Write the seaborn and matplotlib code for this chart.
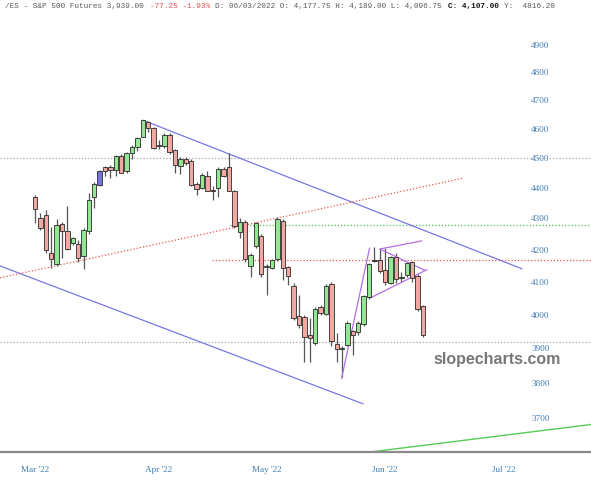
import numpy as np
import pandas as pd
import matplotlib
matplotlib.use("Agg")
import matplotlib.pyplot as plt
from matplotlib.ticker import FixedLocator, NullLocator, FixedFormatter
import seaborn as sns

# ---------------- data ----------------
dates = [d for d in pd.bdate_range("2022-03-01", "2022-06-10") if d != pd.Timestamp("2022-04-15")]

opens = [4370, 4301, 4311, 4190, 4155, 4283, 4261, 4222, 4218, 4180,
         4258, 4370, 4409, 4468, 4470, 4459, 4507, 4455, 4518, 4538,
         4573, 4623, 4602, 4540, 4540, 4578, 4527, 4473, 4497, 4491,
         4413, 4399, 4440, 4392, 4399, 4464, 4471, 4388, 4257, 4290,
         4150, 4213, 4245, 4146, 4144, 4170, 4293, 4147, 4086, 3995,
         3992, 3940, 3916, 4024, 4003, 4093, 3913, 3899, 3910, 3950,
         3947, 3972, 4052, 4166, 4166, 4137, 4097, 4177.75, 4111, 4121,
         4160, 4118, 4025]
highs = [4376, 4318, 4327, 4273, 4298, 4290, 4340, 4240, 4232, 4270,
         4382, 4418, 4460, 4472, 4475, 4510, 4512, 4520, 4545, 4572,
         4632, 4627, 4607, 4560, 4585, 4585, 4530, 4505, 4502, 4495,
         4418, 4450, 4455, 4405, 4470, 4468, 4516, 4392, 4300, 4295,
         4190, 4290, 4250, 4155, 4172, 4305, 4298, 4150, 4095, 4060,
         3998, 3990, 4022, 4030, 4092, 4098, 3945, 3905, 3980, 3955,
         3980, 4060, 4158, 4210, 4202, 4205, 4180, 4189, 4130, 4162,
         4165, 4125, 4030]
lows = [4285, 4262, 4190, 4143, 4149, 4174, 4198, 4215, 4160, 4140,
        4250, 4334, 4405, 4440, 4432, 4440, 4448, 4450, 4497, 4525,
        4570, 4590, 4530, 4530, 4535, 4515, 4450, 4446, 4478, 4405,
        4375, 4395, 4388, 4360, 4370, 4435, 4388, 4270, 4236, 4160,
        4115, 4205, 4115, 4060, 4138, 4165, 4105, 4090, 3985, 3960,
        3860, 3860, 3910, 4000, 3998, 3905, 3860, 3815, 3905, 3880,
        3940, 3965, 4048, 4160, 4128, 4090, 4094, 4096.75, 4100, 4115,
        4100, 4012, 3932]
closes = [4331, 4268, 4199, 4171, 4280, 4261, 4202, 4236, 4174, 4264,
          4359, 4413, 4455, 4455, 4460, 4507, 4451, 4517, 4538, 4568,
          4630, 4602, 4534, 4545, 4578, 4522, 4477, 4497, 4484, 4410,
          4396, 4444, 4391, 4391, 4464, 4440, 4391, 4277, 4290, 4170,
          4183, 4285, 4125, 4149, 4167, 4298, 4144, 4118, 3990, 3968,
          3932, 3930, 4018, 4006, 4087, 3922, 3898, 3900, 3975, 3940,
          3975, 4055, 4155, 4164, 4132, 4100, 4176, 4107, 4116, 4157,
          4112, 4016.25, 3939]
highlight_day = "2022-03-17"

# trend lines: (index start, price start, index end, price end)
channel_upper = (20.0, 4630, 90.4, 4140)
channel_lower = (-6.5, 4149, 60.9, 3740)
red_rising = (-6.5, 4112, 79.4, 4432)
green_rising = (62.2, 3607, 103.5, 3683)
flag_lines = [(56.9, 3812, 62.1, 4205),
              (64.0, 4202, 71.8, 4228),
              (64.0, 4202, 72.4, 4135),
              (62.2, 4050, 72.7, 4137)]
level_red = 4168
level_green = 4278
level_gray = [4500, 3919]
level_red_start = 32.8
level_green_start = 36.2

y_ticks = [3700, 3800, 3900, 4000, 4100, 4200, 4300, 4400, 4500, 4600, 4700, 4800, 4900]

# ---------------- style ----------------
sns.set_theme(style="white")
plt.rcParams["font.family"] = ["DejaVu Sans"]

fig = plt.figure(figsize=(5.91, 4.80), dpi=100)
ax = fig.add_axes([0, 28 / 480, 1, 452 / 480])

n = len(dates)
idx = np.arange(n)
df = pd.DataFrame({"date": dates, "i": idx, "open": opens, "high": highs,
                   "low": lows, "close": closes})
df["up"] = df["close"] >= df["open"]
df["bottom"] = df[["open", "close"]].min(axis=1)
df["height"] = (df["open"] - df["close"]).abs()
df.loc[df["height"] < 2, "height"] = 2

GREEN = "#93e793"
RED = "#f3a7a1"
BLUE = "#7474dc"
colors = np.where(df["up"], GREEN, RED).astype(object)
colors[df["date"] == pd.Timestamp(highlight_day)] = BLUE

# level lines
for lv in level_gray:
    ax.axhline(lv, color="#a8a8a8", lw=0.9, ls=(0, (1, 1.6)), zorder=1)
xmax_idx = 103.2
ax.hlines(level_red, level_red_start, xmax_idx, color="#e8584f", lw=0.9, ls=(0, (1, 1.6)), zorder=1)
ax.hlines(level_green, level_green_start, xmax_idx, color="#4fc24f", lw=0.9, ls=(0, (1, 1.6)), zorder=1)

# trend lines
def seg(t, **kw):
    ax.plot([t[0], t[2]], [t[1], t[3]], **kw)

seg(channel_upper, color="#7777e6", lw=0.9, zorder=2)
seg(channel_lower, color="#7777e6", lw=0.9, zorder=2)
seg(red_rising, color="#e8584f", lw=0.9, ls=(0, (1, 1.6)), zorder=2)
seg(green_rising, color="#55cc55", lw=1.0, zorder=2)
for t in flag_lines:
    seg(t, color="#b46ee6", lw=0.9, zorder=4)

# candles: wicks
ax.vlines(df["i"], df["low"], df["high"], color="#555555", lw=0.9, zorder=3)
# bodies
ax.bar(df["i"], df["height"], bottom=df["bottom"], width=0.82, color=list(colors),
       edgecolor="#2a2a2a", linewidth=0.6, zorder=4)

# axes setup
ax.set_yscale("log")
ax.set_ylim(3607, 5068)
ax.set_xlim(-6.5, 103.2)
ax.yaxis.set_major_locator(FixedLocator(y_ticks))
ax.yaxis.set_major_formatter(FixedFormatter([str(v) for v in y_ticks]))
ax.yaxis.set_minor_locator(NullLocator())
ax.yaxis.tick_right()
ax.tick_params(axis="y", direction="in", length=0, pad=-43, labelsize=6.6,
               labelcolor="#3f7fb5")
for lab in ax.get_yticklabels():
    lab.set_fontfamily("Liberation Serif")

# month ticks on trading-day index
future = pd.bdate_range("2022-06-13", "2022-08-31")
all_days = list(dates) + list(future)
month_pos, month_lab = [], []
prev = None
for k, d in enumerate(all_days):
    if d.month != prev:
        month_pos.append(k)
        month_lab.append(d.strftime("%b '%y"))
        prev = d.month
ax.xaxis.set_major_locator(FixedLocator(month_pos))
ax.xaxis.set_major_formatter(FixedFormatter(month_lab))
ax.xaxis.set_minor_locator(NullLocator())
ax.tick_params(axis="x", length=0, pad=10, labelsize=6.6, labelcolor="#3f7fb5")
for lab in ax.get_xticklabels():
    lab.set_fontfamily("Liberation Serif")

for s in ["top", "right", "left"]:
    ax.spines[s].set_visible(False)
ax.spines["bottom"].set_color("#8a8a8a")
ax.spines["bottom"].set_linewidth(1.6)
ax.grid(False)

# watermark
ax.text(0.733, 0.205, "slopecharts.com", transform=ax.transAxes, fontsize=11.5,
        fontweight="bold", color="#777777", ha="left", va="center",
        family="Liberation Sans")

# header
segments = [("/ES - S&P 500 Futures 3,939.00 ", "#5a5a5a", "normal"),
            ("-77.25 -1.93% ", "#e05050", "normal"),
            ("D: 06/03/2022 O: 4,177.75 H: 4,189.00 L: 4,096.75 ", "#5a5a5a", "normal"),
            ("C: 4,107.00 ", "#111111", "bold"),
            ("Y:  4816.20", "#5a5a5a", "normal")]
fs = 5.6
cw = 0.6 * fs * 100 / 72
pos = 5.0
for txt, col, wt in segments:
    fig.text(pos / 591, 1 - 6.5 / 480, txt, fontsize=fs, color=col, fontweight=wt,
             family="Liberation Mono", ha="left", va="center")
    pos += len(txt) * cw

fig.savefig("out.png", dpi=100)
